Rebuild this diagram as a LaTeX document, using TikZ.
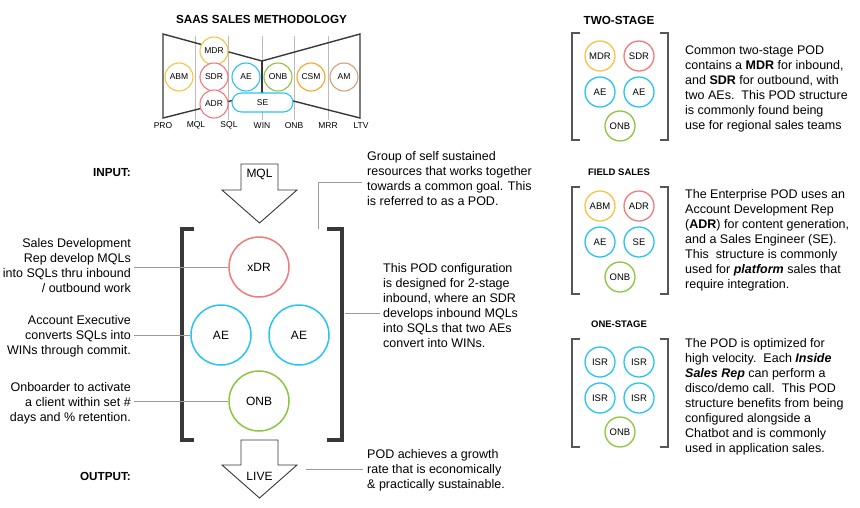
\documentclass[tikz,border=0pt]{standalone}
\usepackage{fontspec}
\setmainfont{Liberation Sans}
\definecolor{cyel}{HTML}{F5C444}
\definecolor{cred}{HTML}{F27A7A}
\definecolor{ccyan}{HTML}{27C4F4}
\definecolor{cgreen}{HTML}{8CC63F}
\definecolor{corange}{HTML}{F6A623}
\definecolor{ctan}{HTML}{C9A57A}
\definecolor{cdark}{HTML}{383838}
\definecolor{cgrid}{HTML}{BBBBBB}
\definecolor{cconn}{HTML}{9A9A9A}
\begin{document}
\begin{tikzpicture}[x=1pt,y=-1pt,
  conn/.style={draw=cconn, line width=0.8pt},
  bigc/.style={circle, draw, line width=1.5pt, minimum size=60pt, inner sep=0pt, fill=white, font=\fontsize{12}{14}\selectfont},
  smc/.style={circle, draw, line width=1.3pt, minimum size=30pt, inner sep=0pt, fill=white, font=\fontsize{9.5}{11}\selectfont},
  fc/.style={circle, draw, line width=1.1pt, minimum size=28pt, inner sep=0pt, fill=white, font=\fontsize{8.5}{10}\selectfont},
  body/.style={font=\fontsize{12.5}{15}\selectfont, inner sep=0pt},
  lefttxt/.style={body, align=right, anchor=north east},
  righttxt/.style={body, align=left, anchor=north west},
  boldlbl/.style={font=\fontsize{11.7}{14}\selectfont\bfseries, inner sep=0pt},
  axlbl/.style={font=\fontsize{8.5}{10}\selectfont, inner sep=0pt},
  bigbr/.style={draw=cdark, line width=4pt},
  smbr/.style={draw=cdark!85, line width=2.2pt},
  flowarrow/.style={draw=cdark, line width=0.9pt, fill=white, line join=miter}
]
\useasboundingbox (0,0) rectangle (860,507);

% ---------------- Funnel ----------------
\node[boldlbl] (title) at (261.5,19) {SAAS SALES METHODOLOGY};
\foreach \x in {195,228,262,294,328} \draw[cgrid, line width=0.8pt] (\x,36) -- (\x,120);
\draw[cdark, line width=1.4pt, line join=miter] (163,34) -- (262,61) -- (360,34) -- (360,118) -- (262,93) -- (163,118) -- cycle;
\draw[cdark, line width=1.4pt] (262,61) -- (262,93);
\node[fc, draw=cyel] (fmdr) at (214,51) {MDR};
\node[fc, draw=cred] (fsdr) at (214,77) {SDR};
\node[fc, draw=cred] (fadr) at (214,104) {ADR};
\node[fc, draw=cyel] (fabm) at (179,77) {ABM};
\node[fc, draw=ccyan] (fae) at (246,77) {AE};
\node[fc, draw=cgreen] (fonb) at (278,77) {ONB};
\node[fc, draw=corange] (fcsm) at (311,77) {CSM};
\node[fc, draw=ctan] (fam) at (344,77) {AM};
\node[draw=ccyan, line width=1.1pt, fill=white, rounded corners=9.5pt, minimum width=61pt, minimum height=19pt, inner sep=0pt, font=\fontsize{8.5}{10}\selectfont] (fse) at (262.5,102.5) {SE};
\node[axlbl] (lpro) at (163,125.5) {PRO};
\node[axlbl] (lmql) at (196,125.5) {MQL};
\node[axlbl] (lsql) at (229,125.5) {SQL};
\node[axlbl] (lwin) at (262,125.5) {WIN};
\node[axlbl] (lonb) at (294,125.5) {ONB};
\node[axlbl] (lmrr) at (328,125.5) {MRR};
\node[axlbl] (lltv) at (361,125.5) {LTV};

% ---------------- Main POD ----------------
\node[boldlbl, anchor=east] (input) at (131,173) {INPUT:};
\node[boldlbl, anchor=east] (output) at (131,476) {OUTPUT:};
\draw[flowarrow] (241,164) -- (278,164) -- (278,190) -- (297,190) -- (259.5,223) -- (222,190) -- (241,190) -- cycle;
\node[font=\fontsize{12}{14}\selectfont, inner sep=0pt] (mql) at (259.5,174) {MQL};
\draw[flowarrow] (241,440) -- (278,440) -- (278,465) -- (297,465) -- (259.5,498) -- (222,465) -- (241,465) -- cycle;
\node[font=\fontsize{12}{14}\selectfont, inner sep=0pt] (live) at (259.5,476) {LIVE};

\draw[bigbr] (194,229) -- (182,229) -- (182,440) -- (194,440);
\draw[bigbr] (327,229) -- (342,229) -- (342,440) -- (327,440);

\node[bigc, draw=cred] (xdr) at (259,267) {xDR};
\node[bigc, draw=ccyan] (ae1) at (221,335) {AE};
\node[bigc, draw=ccyan] (ae2) at (299,335) {AE};
\node[bigc, draw=cgreen] (onb) at (259,401) {ONB};

\node[lefttxt] (t1) at (131,238.5) {Sales Development\\Rep develop MQLs\\into SQLs thru inbound\\/ outbound work};
\node[lefttxt] (t2) at (131,315.5) {Account Executive\\converts SQLs into\\WINs through commit.};
\node[lefttxt] (t3) at (131,382.5) {Onboarder to activate\\a client within set \#\\days and \% retention.};
\coordinate (c1) at (134,267);
\coordinate (c2) at (134,335);
\coordinate (c3) at (134,401);
\draw[conn] (c1) -- (xdr.west);
\draw[conn] (c2) -- (ae1.west);
\draw[conn] (c3) -- (onb.west);

\node[righttxt] (t4) at (367,151.5) {Group of self sustained\\resources that works together\\towards a common goal. This\\is referred to as a POD.};
\node[righttxt] (t5) at (383,263.5) {This POD configuration\\is designed for 2-stage\\inbound, where an SDR\\develops inbound MQLs\\into SQLs that two AEs\\convert into WINs.};
\node[righttxt] (t6) at (367,449.5) {POD achieves a growth\\rate that is economically\\\& practically sustainable.};
\coordinate (c4a) at (318,229);
\coordinate (c4b) at (362,182);
\draw[conn] (c4a) |- (c4b);
\coordinate (c5a) at (345,313);
\coordinate (c5b) at (380,313);
\draw[conn] (c5a) -- (c5b);
\coordinate (c6a) at (306,469);
\coordinate (c6b) at (363,469);
\draw[conn] (c6a) -- (c6b);

% ---------------- Two-stage ----------------
\node[boldlbl] (two) at (619,20) {TWO-STAGE};
\draw[smbr] (580,33) -- (572,33) -- (572,140) -- (580,140);
\draw[smbr] (660,33) -- (668,33) -- (668,140) -- (660,140);
\node[smc, draw=cyel] (a1) at (600,56) {MDR};
\node[smc, draw=cred] (a2) at (639,56) {SDR};
\node[smc, draw=ccyan] (a3) at (600,92) {AE};
\node[smc, draw=ccyan] (a4) at (639,92) {AE};
\node[smc, draw=cgreen] (a5) at (620,126) {ONB};
\node[righttxt] (p1) at (685,45.5) {Common two-stage POD\\contains a \textbf{MDR} for inbound,\\and \textbf{SDR} for outbound, with\\two AEs.\ \ This POD structure\\is commonly found being\\use for regional sales teams};

% ---------------- Field sales ----------------
\node[font=\fontsize{9.5}{11}\selectfont\bfseries, inner sep=0pt] (field) at (619,172) {FIELD SALES};
\draw[smbr] (580,187) -- (572,187) -- (572,294) -- (580,294);
\draw[smbr] (660,187) -- (668,187) -- (668,294) -- (660,294);
\node[smc, draw=cyel] (b1) at (600,206) {ABM};
\node[smc, draw=cred] (b2) at (639,206) {ADR};
\node[smc, draw=ccyan] (b3) at (600,242) {AE};
\node[smc, draw=ccyan] (b4) at (639,242) {SE};
\node[smc, draw=cgreen] (b5) at (620,277) {ONB};
\node[righttxt] (p2) at (685,189.5) {The Enterprise POD uses an\\Account Development Rep\\(\textbf{ADR}) for content generation,\\and a Sales Engineer (SE).\\This\ \ structure is commonly\\used for \textbf{\textit{platform}} sales that\\require integration.};

% ---------------- One-stage ----------------
\node[font=\fontsize{9.5}{11}\selectfont\bfseries, inner sep=0pt] (one) at (619,324) {ONE-STAGE};
\draw[smbr] (580,339) -- (572,339) -- (572,447) -- (580,447);
\draw[smbr] (660,339) -- (668,339) -- (668,447) -- (660,447);
\node[smc, draw=ccyan] (d1) at (600,362) {ISR};
\node[smc, draw=ccyan] (d2) at (639,362) {ISR};
\node[smc, draw=ccyan] (d3) at (600,398) {ISR};
\node[smc, draw=ccyan] (d4) at (639,398) {ISR};
\node[smc, draw=cgreen] (d5) at (620,432) {ONB};
\node[righttxt] (p3) at (685,338.5) {The POD is optimized for\\high velocity.\ \ Each \textbf{\textit{Inside}}\\\textbf{\textit{Sales Rep}} can perform a\\disco/demo call.\ \ This POD\\structure benefits from being\\configured alongside a\\Chatbot and is commonly\\used in application sales.};
\end{tikzpicture}
\end{document}
